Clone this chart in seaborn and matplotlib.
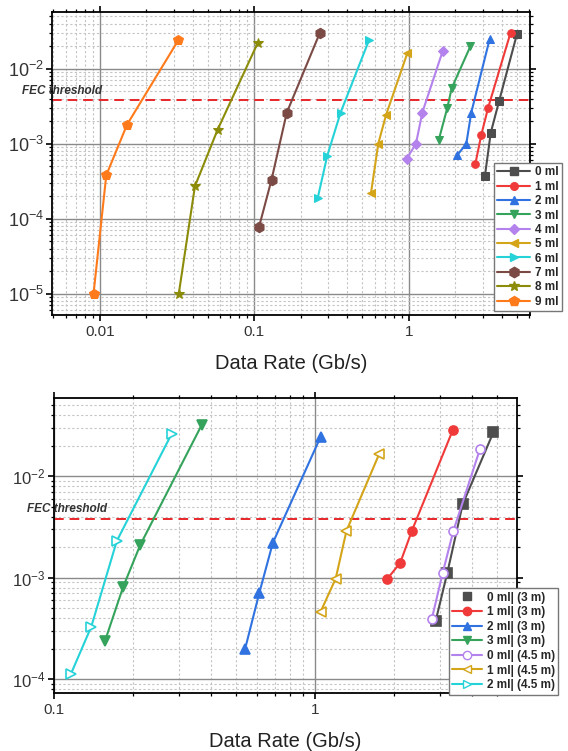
import numpy as np
import pandas as pd
import seaborn as sns
import matplotlib.pyplot as plt
from matplotlib.lines import Line2D
from matplotlib.ticker import LogLocator, NullFormatter

# ------------------------------DATOS------------------------------

# Gráfica superior: BER vs tasa de datos para distintas concentraciones
top_labels = ["0 ml", "1 ml", "2 ml", "3 ml", "4 ml", "5 ml", "6 ml", "7 ml", "8 ml", "9 ml"]
top_rate = [
    [3.10, 3.38, 3.83, 5.0],
    [2.69, 2.94, 3.25, 4.54],
    [2.06, 2.35, 2.53, 3.33],
    [1.56, 1.77, 1.89, 2.5],
    [0.966, 1.11, 1.22, 1.65],
    [0.568, 0.633, 0.71, 0.977],
    [0.257, 0.296, 0.361, 0.553],
    [0.107, 0.129, 0.162, 0.265],
    [0.0324, 0.0412, 0.0578, 0.105],
    [0.0091, 0.0110, 0.0150, 0.0321],
]
top_ber = [
    [3.7e-4, 1.39e-3, 3.7e-3, 2.9e-2],
    [5.4e-4, 1.32e-3, 3.0e-3, 3.0e-2],
    [7.1e-4, 1.0e-3, 2.6e-3, 2.5e-2],
    [1.13e-3, 3.0e-3, 5.5e-3, 2.0e-2],
    [6.3e-4, 1.0e-3, 2.6e-3, 1.7e-2],
    [2.2e-4, 1.0e-3, 2.4e-3, 1.62e-2],
    [1.9e-4, 6.9e-4, 2.6e-3, 2.44e-2],
    [7.7e-5, 3.3e-4, 2.6e-3, 3.0e-2],
    [1.0e-5, 2.7e-4, 1.54e-3, 2.2e-2],
    [1.0e-5, 3.8e-4, 1.8e-3, 2.38e-2],
]
top_colors = ["#4d4d4d", "#f03a3a", "#2f72e0", "#35a35c", "#b482ec",
              "#d4a419", "#25d2d8", "#7b4a45", "#8c8c0a", "#ff7a1a"]
top_markers = ["s", "o", "^", "v", "D", "<", ">", "h", "*", "p"]

# Gráfica inferior: dos distancias (3 m y 4.5 m)
bot_labels = ["0 ml| (3 m)", "1 ml| (3 m)", "2 ml| (3 m)", "3 ml| (3 m)",
              "0 ml| (4.5 m)", "1 ml| (4.5 m)", "2 ml| (4.5 m)"]
bot_rate = [
    [2.9, 3.21, 3.68, 4.82],
    [1.89, 2.12, 2.35, 3.37],
    [0.54, 0.612, 0.689, 1.05],
    [0.157, 0.184, 0.214, 0.368],
    [2.8, 3.08, 3.39, 4.29],
    [1.05, 1.2, 1.32, 1.76],
    [0.116, 0.139, 0.174, 0.282],
]
bot_ber = [
    [3.76e-4, 1.11e-3, 5.3e-3, 2.7e-2],
    [9.7e-4, 1.4e-3, 2.9e-3, 2.84e-2],
    [2.0e-4, 7.1e-4, 2.2e-3, 2.44e-2],
    [2.4e-4, 8.1e-4, 2.1e-3, 3.2e-2],
    [3.9e-4, 1.1e-3, 2.9e-3, 1.87e-2],
    [4.6e-4, 9.8e-4, 2.9e-3, 1.65e-2],
    [1.12e-4, 3.3e-4, 2.3e-3, 2.6e-2],
]
bot_colors = ["#4d4d4d", "#f03a3a", "#2f72e0", "#35a35c", "#b482ec", "#d4a419", "#25d2d8"]
bot_markers = ["s", "o", "^", "v", "o", "<", ">"]
bot_open = [False, False, False, False, True, True, True]

fec = 3.8e-3

# ------------------------------ESTILO------------------------------
sns.set_style("white")
plt.rcParams['font.family'] = ['Liberation Sans', 'DejaVu Sans']
plt.rcParams['mathtext.fontset'] = 'custom'
plt.rcParams['mathtext.rm'] = 'Liberation Sans'


def estilo_ejes(ax, xlim, ylim, xticks, xlabels, ysize):
    """Aplica escalas log, rejilla y ticks al estilo Origin."""
    ax.set_xscale("log")
    ax.set_yscale("log")
    ax.set_xlim(*xlim)
    ax.set_ylim(*ylim)
    ax.set_xticks(xticks)
    ax.set_xticklabels(xlabels)
    ax.xaxis.set_minor_locator(LogLocator(base=10, subs=np.arange(2, 10)))
    ax.xaxis.set_minor_formatter(NullFormatter())
    ax.yaxis.set_major_locator(LogLocator(base=10, numticks=10))
    ax.yaxis.set_minor_locator(LogLocator(base=10, subs=np.arange(2, 10), numticks=20))
    ax.yaxis.set_minor_formatter(NullFormatter())
    ax.grid(which="major", color="#8a8a8a", lw=1.0, ls="-")
    ax.grid(which="minor", color="#c4c4c4", lw=0.8, ls=(0, (2, 2)))
    ax.set_axisbelow(True)
    for s in ax.spines.values():
        s.set_color("black")
        s.set_linewidth(1.3)
    ax.tick_params(which="both", direction="out", top=True, right=True,
                   left=True, bottom=True, color="black", pad=3)
    ax.tick_params(axis="x", labelsize=11, labelcolor="#333333")
    ax.tick_params(axis="y", labelsize=ysize, labelcolor="#333333", pad=2)
    ax.tick_params(which="major", length=4, width=1.2)
    ax.tick_params(which="minor", length=2.5, width=0.9)
    ax.set_xlabel("Data Rate (Gb/s)", fontsize=14.5, labelpad=11, color="#222222")
    ax.set_ylabel("")
    ax.axhline(fec, color="#e8262a", ls=(0, (5, 3)), lw=1.4, zorder=1.5)


fig = plt.figure(figsize=(5.68, 7.51), dpi=100)

# ------------------------------GRÁFICA SUPERIOR------------------------------
ax1 = fig.add_axes([52 / 568, 1 - 315 / 751, 478 / 568, 303 / 751])
handles1 = []
for lab, xs, ys, c, m in zip(top_labels, top_rate, top_ber, top_colors, top_markers):
    df = pd.DataFrame({"rate": xs, "ber": ys})
    ms = 7.5 if m in ("*", "p", "h") else 5.5
    sns.lineplot(data=df, x="rate", y="ber", ax=ax1, sort=False, color=c, lw=1.5,
                 marker=m, markersize=ms, markeredgecolor=c, markerfacecolor=c,
                 legend=False, zorder=3)
    handles1.append(Line2D([], [], color=c, lw=1.5, marker=m, markersize=ms,
                           markerfacecolor=c, markeredgecolor=c, label=lab))
estilo_ejes(ax1, (0.0049, 6.07), (5.2e-6, 0.057), [0.01, 0.1, 1], ["0.01", "0.1", "1"], 13)
ax1.text(-0.062, fec * 1.1, "FEC threshold", transform=ax1.get_yaxis_transform(),
         fontsize=8.5, fontstyle="italic", fontweight="bold", color="#333333",
         va="bottom", ha="left", clip_on=False)
ax1.legend(handles=handles1, loc="upper left", bbox_to_anchor=(0.924, 0.502),
           borderaxespad=0, frameon=True, fancybox=False, edgecolor="#777777",
           framealpha=1, prop={"weight": "bold", "size": 8.5},
           handlelength=2.8, labelspacing=0.2, handletextpad=0.4,
           borderpad=0.3)

# ------------------------------GRÁFICA INFERIOR------------------------------
ax2 = fig.add_axes([54 / 568, 1 - 693 / 751, 463 / 568, 295 / 751])
handles2 = []
for lab, xs, ys, c, m, op in zip(bot_labels, bot_rate, bot_ber, bot_colors, bot_markers, bot_open):
    df = pd.DataFrame({"rate": xs, "ber": ys})
    fc = "white" if op else c
    sns.lineplot(data=df, x="rate", y="ber", ax=ax2, sort=False, color=c, lw=1.5,
                 marker=m, markersize=6.5, markeredgecolor=c, markerfacecolor=fc,
                 markeredgewidth=1.2, legend=False, zorder=3)
    # en la leyenda original "0 ml (3 m)" aparece sin línea
    lw_leg = 0 if lab == "0 ml| (3 m)" else 1.5
    handles2.append(Line2D([], [], color=c, lw=lw_leg, marker=m, markersize=6,
                           markerfacecolor=fc, markeredgecolor=c, label=lab))
estilo_ejes(ax2, (0.1, 5.94), (7.3e-5, 0.059), [0.1, 1], ["0.1", "1"], 12)
ax2.text(-0.058, fec * 1.1, "FEC threshold", transform=ax2.get_yaxis_transform(),
         fontsize=8.5, fontstyle="italic", fontweight="bold", color="#333333",
         va="bottom", ha="left", clip_on=False)
ax2.legend(handles=handles2, loc="upper left", bbox_to_anchor=(0.853, 0.356),
           borderaxespad=0, frameon=True, fancybox=False, edgecolor="#777777",
           framealpha=1, prop={"weight": "bold", "size": 8.5},
           handlelength=2.5, labelspacing=0.22, handletextpad=0.4, borderpad=0.3)

fig.savefig("out.png", dpi=100)
